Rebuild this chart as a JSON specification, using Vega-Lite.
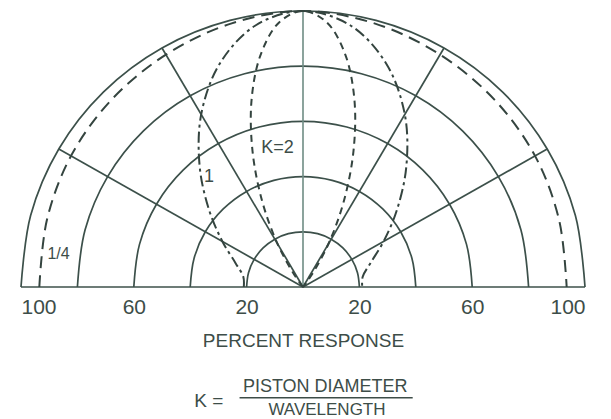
{
  "$schema": "https://vega.github.io/schema/vega-lite/v6.json",
  "width": 564,
  "height": 276,
  "autosize": {"type": "none"},
  "padding": {"left": 21, "top": 11, "right": 26, "bottom": 132},
  "background": "white",
  "config": {"view": {"stroke": null}, "font": "Liberation Sans"},
  "resolve": {"axis": {"x": "independent", "y": "independent"}},
  "datasets": {
    "rings": [
      {"ring": 20, "a": -90, "x": -20, "y": 0}, {"ring": 20, "a": -75, "x": -19.32, "y": 5.18}, {"ring": 20, "a": -60, "x": -17.32, "y": 10}, {"ring": 20, "a": -45, "x": -14.14, "y": 14.14}, {"ring": 20, "a": -30, "x": -10, "y": 17.32}, {"ring": 20, "a": -15, "x": -5.18, "y": 19.32}, {"ring": 20, "a": 0, "x": 0, "y": 20}, {"ring": 20, "a": 15, "x": 5.18, "y": 19.32}, {"ring": 20, "a": 30, "x": 10, "y": 17.32}, {"ring": 20, "a": 45, "x": 14.14, "y": 14.14}, {"ring": 20, "a": 60, "x": 17.32, "y": 10}, {"ring": 20, "a": 75, "x": 19.32, "y": 5.18}, {"ring": 20, "a": 90, "x": 20, "y": 0},
      {"ring": 40, "a": -90, "x": -40, "y": 0}, {"ring": 40, "a": -75, "x": -38.64, "y": 10.35}, {"ring": 40, "a": -60, "x": -34.64, "y": 20}, {"ring": 40, "a": -45, "x": -28.28, "y": 28.28}, {"ring": 40, "a": -30, "x": -20, "y": 34.64}, {"ring": 40, "a": -15, "x": -10.35, "y": 38.64}, {"ring": 40, "a": 0, "x": 0, "y": 40}, {"ring": 40, "a": 15, "x": 10.35, "y": 38.64}, {"ring": 40, "a": 30, "x": 20, "y": 34.64}, {"ring": 40, "a": 45, "x": 28.28, "y": 28.28}, {"ring": 40, "a": 60, "x": 34.64, "y": 20}, {"ring": 40, "a": 75, "x": 38.64, "y": 10.35}, {"ring": 40, "a": 90, "x": 40, "y": 0},
      {"ring": 60, "a": -90, "x": -60, "y": 0}, {"ring": 60, "a": -75, "x": -57.96, "y": 15.53}, {"ring": 60, "a": -60, "x": -51.96, "y": 30}, {"ring": 60, "a": -45, "x": -42.43, "y": 42.43}, {"ring": 60, "a": -30, "x": -30, "y": 51.96}, {"ring": 60, "a": -15, "x": -15.53, "y": 57.96}, {"ring": 60, "a": 0, "x": 0, "y": 60}, {"ring": 60, "a": 15, "x": 15.53, "y": 57.96}, {"ring": 60, "a": 30, "x": 30, "y": 51.96}, {"ring": 60, "a": 45, "x": 42.43, "y": 42.43}, {"ring": 60, "a": 60, "x": 51.96, "y": 30}, {"ring": 60, "a": 75, "x": 57.96, "y": 15.53}, {"ring": 60, "a": 90, "x": 60, "y": 0},
      {"ring": 80, "a": -90, "x": -80, "y": 0}, {"ring": 80, "a": -75, "x": -77.27, "y": 20.71}, {"ring": 80, "a": -60, "x": -69.28, "y": 40}, {"ring": 80, "a": -45, "x": -56.57, "y": 56.57}, {"ring": 80, "a": -30, "x": -40, "y": 69.28}, {"ring": 80, "a": -15, "x": -20.71, "y": 77.27}, {"ring": 80, "a": 0, "x": 0, "y": 80}, {"ring": 80, "a": 15, "x": 20.71, "y": 77.27}, {"ring": 80, "a": 30, "x": 40, "y": 69.28}, {"ring": 80, "a": 45, "x": 56.57, "y": 56.57}, {"ring": 80, "a": 60, "x": 69.28, "y": 40}, {"ring": 80, "a": 75, "x": 77.27, "y": 20.71}, {"ring": 80, "a": 90, "x": 80, "y": 0},
      {"ring": 100, "a": -90, "x": -100, "y": 0}, {"ring": 100, "a": -75, "x": -96.59, "y": 25.88}, {"ring": 100, "a": -60, "x": -86.6, "y": 50}, {"ring": 100, "a": -45, "x": -70.71, "y": 70.71}, {"ring": 100, "a": -30, "x": -50, "y": 86.6}, {"ring": 100, "a": -15, "x": -25.88, "y": 96.59}, {"ring": 100, "a": 0, "x": 0, "y": 100}, {"ring": 100, "a": 15, "x": 25.88, "y": 96.59}, {"ring": 100, "a": 30, "x": 50, "y": 86.6}, {"ring": 100, "a": 45, "x": 70.71, "y": 70.71}, {"ring": 100, "a": 60, "x": 86.6, "y": 50}, {"ring": 100, "a": 75, "x": 96.59, "y": 25.88}, {"ring": 100, "a": 90, "x": 100, "y": 0}
    ],
    "rays": [
      {"deg": 0, "x": -100, "y": 0, "x2": 100, "y2": 0},
      {"deg": 30, "x": 0, "y": 0, "x2": 86.6, "y2": 50},
      {"deg": 60, "x": 0, "y": 0, "x2": 50, "y2": 86.6},
      {"deg": 120, "x": 0, "y": 0, "x2": -50, "y2": 86.6},
      {"deg": 150, "x": 0, "y": 0, "x2": -86.6, "y2": 50}
    ],
    "curves": [
      {"K": "1/4", "a": -90, "x": -93.5, "y": 0}, {"K": "1/4", "a": -75, "x": -90.8, "y": 24.33}, {"K": "1/4", "a": -60, "x": -82.27, "y": 47.5}, {"K": "1/4", "a": -45, "x": -67.88, "y": 67.88}, {"K": "1/4", "a": -30, "x": -48.6, "y": 84.18}, {"K": "1/4", "a": -15, "x": -25.57, "y": 95.43}, {"K": "1/4", "a": 0, "x": 0, "y": 100}, {"K": "1/4", "a": 15, "x": 25.57, "y": 95.43}, {"K": "1/4", "a": 30, "x": 48.6, "y": 84.18}, {"K": "1/4", "a": 45, "x": 67.88, "y": 67.88}, {"K": "1/4", "a": 60, "x": 82.27, "y": 47.5}, {"K": "1/4", "a": 75, "x": 90.8, "y": 24.33}, {"K": "1/4", "a": 90, "x": 93.5, "y": 0},
      {"K": "1", "a": -90, "x": -21, "y": 0}, {"K": "1", "a": -80, "x": -21.17, "y": 3.73}, {"K": "1", "a": -70, "x": -23.96, "y": 8.72}, {"K": "1", "a": -60, "x": -28.58, "y": 16.5}, {"K": "1", "a": -50, "x": -33.32, "y": 27.96}, {"K": "1", "a": -40, "x": -36.64, "y": 43.66}, {"K": "1", "a": -30, "x": -36.1, "y": 62.53}, {"K": "1", "a": -20, "x": -29.48, "y": 81.0}, {"K": "1", "a": -10, "x": -16.72, "y": 94.84}, {"K": "1", "a": 0, "x": 0, "y": 100}, {"K": "1", "a": 10, "x": 16.72, "y": 94.84}, {"K": "1", "a": 20, "x": 29.48, "y": 81.0}, {"K": "1", "a": 30, "x": 36.1, "y": 62.53}, {"K": "1", "a": 40, "x": 36.64, "y": 43.66}, {"K": "1", "a": 50, "x": 33.32, "y": 27.96}, {"K": "1", "a": 60, "x": 28.58, "y": 16.5}, {"K": "1", "a": 70, "x": 23.96, "y": 8.72}, {"K": "1", "a": 80, "x": 21.17, "y": 3.73}, {"K": "1", "a": 90, "x": 21, "y": 0},
      {"K": "2", "a": -37.6, "x": 0, "y": 0}, {"K": "2", "a": -35, "x": -3.04, "y": 4.34}, {"K": "2", "a": -30, "x": -9.05, "y": 15.68}, {"K": "2", "a": -25, "x": -14.45, "y": 31.0}, {"K": "2", "a": -20, "x": -17.89, "y": 49.15}, {"K": "2", "a": -15, "x": -18.22, "y": 68.0}, {"K": "2", "a": -10, "x": -14.9, "y": 84.5}, {"K": "2", "a": -5, "x": -8.39, "y": 95.93}, {"K": "2", "a": 0, "x": 0, "y": 100}, {"K": "2", "a": 5, "x": 8.39, "y": 95.93}, {"K": "2", "a": 10, "x": 14.9, "y": 84.5}, {"K": "2", "a": 15, "x": 18.22, "y": 68.0}, {"K": "2", "a": 20, "x": 17.89, "y": 49.15}, {"K": "2", "a": 25, "x": 14.45, "y": 31.0}, {"K": "2", "a": 30, "x": 9.05, "y": 15.68}, {"K": "2", "a": 35, "x": 3.04, "y": 4.34}, {"K": "2", "a": 37.6, "x": 0, "y": 0}
    ],
    "labels": [
      {"t": "1/4", "x": -86.7, "y": 12.0, "s": "small"},
      {"t": "1", "x": -33.3, "y": 40.0, "s": "big"},
      {"t": "K=2", "x": -9.0, "y": 50.4, "s": "big"}
    ]
  },
  "layer": [
    {
      "data": {"name": "rings"},
      "mark": {"type": "line", "interpolate": "catmull-rom", "stroke": "#3c504a", "strokeWidth": 1.7},
      "encoding": {
        "x": {"field": "x", "type": "quantitative", "scale": {"domain": [-100, 100], "nice": false, "zero": false},
          "axis": {"values": [-100, -60, -20, 20, 60, 100], "labelExpr": "abs(datum.value)", "domain": false, "ticks": false, "grid": false,
            "labelFont": "Liberation Sans", "labelFontSize": 21, "labelColor": "#3d4d48", "labelPadding": 9,
            "title": "PERCENT RESPONSE", "titleFont": "Liberation Sans", "titleFontSize": 19, "titleFontWeight": "normal", "titleColor": "#3d4d48", "titlePadding": 14}},
        "y": {"field": "y", "type": "quantitative", "scale": {"domain": [0, 100], "nice": false, "zero": false}, "axis": null},
        "detail": {"field": "ring"},
        "order": {"field": "a"}
      }
    },
    {
      "data": {"name": "rays"},
      "mark": {"type": "rule", "stroke": "#3c504a", "strokeWidth": 1.7},
      "encoding": {
        "x": {"field": "x", "type": "quantitative", "axis": null},
        "y": {"field": "y", "type": "quantitative", "axis": null},
        "x2": {"field": "x2"},
        "y2": {"field": "y2"}
      }
    },
    {
      "data": {"values": [{}]},
      "mark": {"type": "rule", "stroke": "#6f8c84", "strokeWidth": 1.6},
      "encoding": {
        "x": {"datum": 0, "type": "quantitative", "axis": null},
        "y": {"datum": 0, "type": "quantitative", "axis": null},
        "y2": {"datum": 100}
      }
    },
    {
      "data": {"name": "curves"},
      "mark": {"type": "line", "interpolate": "catmull-rom", "stroke": "#34443f", "strokeWidth": 2},
      "encoding": {
        "x": {"field": "x", "type": "quantitative", "axis": null},
        "y": {"field": "y", "type": "quantitative", "axis": null},
        "detail": {"field": "K"},
        "order": {"field": "a"},
        "strokeDash": {"field": "K", "type": "nominal", "scale": {"domain": ["1/4", "1", "2"], "range": [[12, 7], [11, 4, 3, 4], [7, 5]]}, "legend": null}
      }
    },
    {
      "data": {"name": "labels"},
      "mark": {"type": "text", "font": "Liberation Sans", "color": "#3d4d48", "align": "center", "baseline": "middle"},
      "encoding": {
        "x": {"field": "x", "type": "quantitative", "axis": null},
        "y": {"field": "y", "type": "quantitative", "axis": null},
        "text": {"field": "t"},
        "size": {"field": "s", "type": "nominal", "scale": {"domain": ["small", "big"], "range": [16, 18]}, "legend": null}
      }
    },
    {
      "data": {"values": [{}]},
      "mark": {"type": "text", "font": "Liberation Sans", "fontSize": 19, "color": "#3d4d48", "align": "center", "baseline": "middle", "text": "K  ="},
      "encoding": {
        "x": {"datum": -33.4, "type": "quantitative", "axis": null},
        "y": {"datum": -41.3, "type": "quantitative", "axis": null}
      }
    },
    {
      "data": {"values": [{}]},
      "mark": {"type": "text", "font": "Liberation Sans", "fontSize": 18, "color": "#3d4d48", "align": "center", "baseline": "middle", "text": "PISTON DIAMETER"},
      "encoding": {
        "x": {"datum": 7.9, "type": "quantitative", "axis": null},
        "y": {"datum": -36.1, "type": "quantitative", "axis": null}
      }
    },
    {
      "data": {"values": [{}]},
      "mark": {"type": "text", "font": "Liberation Sans", "fontSize": 17, "color": "#3d4d48", "align": "center", "baseline": "middle", "text": "WAVELENGTH"},
      "encoding": {
        "x": {"datum": 8.5, "type": "quantitative", "axis": null},
        "y": {"datum": -44.6, "type": "quantitative", "axis": null}
      }
    },
    {
      "data": {"values": [{}]},
      "mark": {"type": "rule", "stroke": "#3d4d48", "strokeWidth": 1.5},
      "encoding": {
        "x": {"datum": -22.5, "type": "quantitative", "axis": null},
        "x2": {"datum": 38.9},
        "y": {"datum": -40.1, "type": "quantitative", "axis": null}
      }
    }
  ]
}
